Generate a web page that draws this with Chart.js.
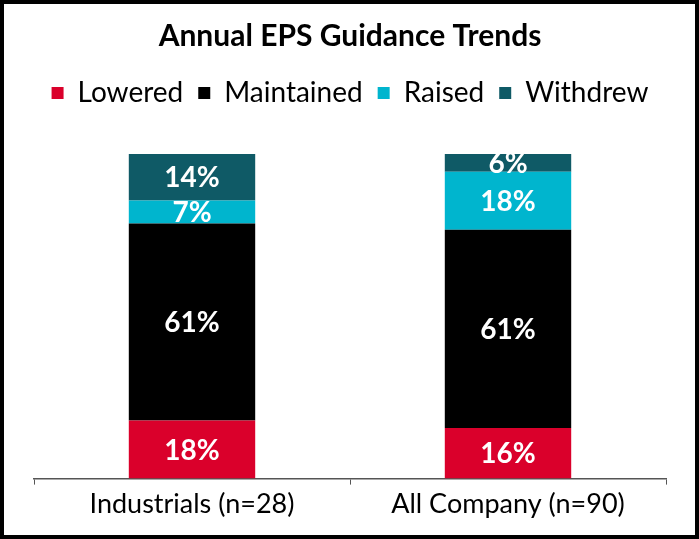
<!DOCTYPE html>
<html>
<head>
<meta charset="utf-8">
<script src="https://cdn.jsdelivr.net/npm/chart.js@4"></script>
<style>
html,body{margin:0;padding:0;background:#fff;}
#wrap{width:699px;height:539px;position:relative;}
</style>
</head>
<body>
<div id="wrap"><canvas id="c" width="699" height="539"></canvas></div>
<script>
const categories = ["Industrials (n=28)", "All Company (n=90)"];
const lowered = [17.9, 15.6];
const maintained = [60.7, 61.1];
const raised = [7.1, 17.8];
const withdrew = [14.3, 5.5];
const seriesNames = ["Lowered", "Maintained", "Raised", "Withdrew"];
const seriesColors = ["#DA002B", "#000000", "#00B5CE", "#0F5A66"];
const FONT = "Lato";

const labelPlugin = {
  id: 'barLabels',
  afterDatasetsDraw(chart) {
    const ctx = chart.ctx;
    const a = chart.chartArea;
    ctx.save();
    ctx.beginPath();
    ctx.rect(a.left, a.top, a.right - a.left, a.bottom - a.top);
    ctx.clip();
    ctx.fillStyle = '#fff';
    ctx.font = 'bold 28px ' + FONT;
    ctx.textAlign = 'center';
    ctx.textBaseline = 'middle';
    chart.data.datasets.forEach((ds, i) => {
      const meta = chart.getDatasetMeta(i);
      meta.data.forEach((bar, j) => {
        const v = ds.data[j];
        const y = (bar.y + bar.base) / 2;
        ctx.fillText(Math.round(v) + '%', bar.x, y + 1);
      });
    });
    ctx.restore();
  }
};

const borderPlugin = {
  id: 'frame',
  afterDraw(chart) {
    const ctx = chart.ctx;
    ctx.save();
    ctx.strokeStyle = '#000';
    ctx.lineWidth = 4;
    ctx.strokeRect(2, 2, chart.width - 4, chart.height - 4);
    ctx.restore();
  }
};

const legendGap = {
  id: 'legendGap',
  beforeInit(chart) {
    const fit = chart.legend.fit;
    chart.legend.fit = function () {
      fit.bind(chart.legend)();
      this.height += 37;
    };
  }
};

const datasets = [lowered, maintained, raised, withdrew].map((d, i) => ({
  label: seriesNames[i],
  data: d,
  backgroundColor: seriesColors[i],
  borderWidth: 0,
  categoryPercentage: 1.0,
  barPercentage: 0.4
}));

new Chart(document.getElementById('c'), {
  type: 'bar',
  data: { labels: categories, datasets },
  plugins: [legendGap, labelPlugin, borderPlugin],
  options: {
    responsive: false,
    animation: false,
    devicePixelRatio: 1,
    layout: { padding: { left: 34, right: 33, top: 0, bottom: 16 } },
    plugins: {
      tooltip: { enabled: false },
      title: {
        display: true,
        text: 'Annual EPS Guidance Trends',
        color: '#000',
        font: { family: FONT, size: 30, weight: 'bold' },
        padding: { top: 18, bottom: 10 }
      },
      legend: {
        display: true,
        labels: {
          color: '#000',
          font: { family: FONT, size: 28 },
          boxWidth: 12,
          boxHeight: 12,
          padding: 15
        }
      }
    },
    scales: {
      x: {
        stacked: true,
        grid: { display: true, drawOnChartArea: false, offset: true, color: '#555', tickLength: 6 },
        border: { display: true, color: '#555', width: 1.5 },
        ticks: { color: '#000', font: { family: FONT, size: 27 }, padding: 3 }
      },
      y: {
        stacked: true,
        min: 0,
        max: 100,
        display: false
      }
    }
  }
});
</script>
</body>
</html>
